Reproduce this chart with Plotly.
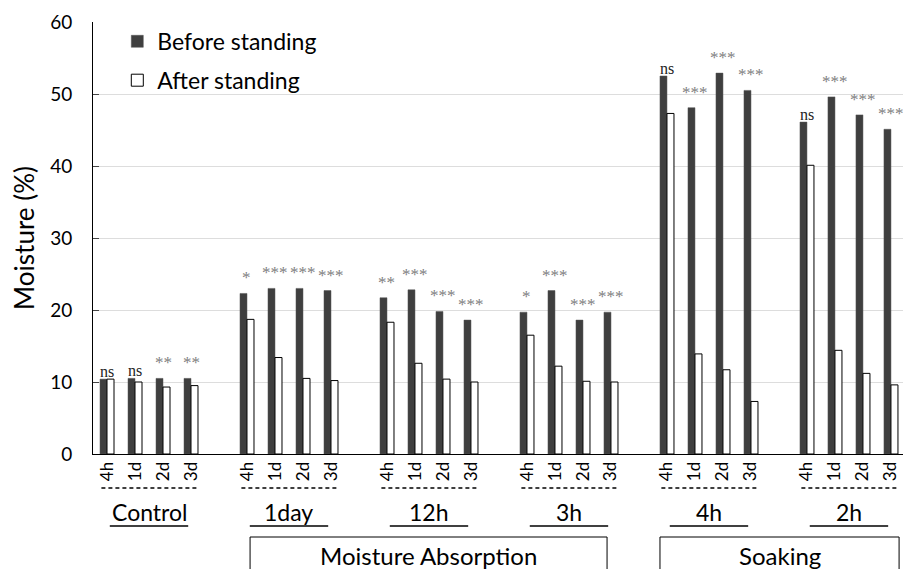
import plotly.graph_objects as go

groups = ["Control", "1day", "12h", "3h", "4h", "2h"]
times = ["4h", "1d", "2d", "3d"]
before = [10.4, 10.5, 10.5, 10.5,
          22.3, 23.0, 23.0, 22.7,
          21.7, 22.8, 19.8, 18.6,
          19.7, 22.7, 18.6, 19.7,
          52.5, 48.1, 52.9, 50.5,
          46.1, 49.6, 47.1, 45.1]
after = [10.4, 10.0, 9.3, 9.5,
         18.7, 13.4, 10.5, 10.2,
         18.3, 12.6, 10.4, 10.0,
         16.5, 12.2, 10.1, 10.0,
         47.3, 13.9, 11.7, 7.3,
         40.1, 14.4, 11.2, 9.6]
signif = ["ns", "ns", "**", "**",
          "*", "***", "***", "***",
          "**", "***", "***", "***",
          "*", "***", "***", "***",
          "ns", "***", "***", "***",
          "ns", "***", "***", "***"]
sections = [("Moisture Absorption", 1, 3), ("Soaking", 4, 5)]
yticks = [0, 10, 20, 30, 40, 50, 60]

# numeric positions: one empty slot between groups
xpos = [g * 5 + i for g in range(len(groups)) for i in range(len(times))]
ticktext = [t for g in groups for t in times]

FONT = "Lato"
W, H = 903, 569
ML, MT, MB = 93, 22, 115
PH = H - MT - MB  # plot height in px
AX_BOTTOM = MT + PH  # page y of the x axis

def ypap(p):
    return (AX_BOTTOM - p) / PH

fig = go.Figure()
fig.add_trace(go.Bar(x=xpos, y=before, name="Before standing",
                     marker=dict(color="#3f3f3f", line=dict(color="#555555", width=0.5)),
                     legendgroup="a"))
fig.add_trace(go.Bar(x=xpos, y=after, name="After standing",
                     marker=dict(color="white", line=dict(color="black", width=1)),
                     legendgroup="b"))

annotations = []
for x, y, s in zip(xpos, before, signif):
    if s == "ns":
        annotations.append(dict(x=x, y=y, text=s, showarrow=False, yanchor="bottom",
                                xanchor="center", yshift=-3,
                                font=dict(family="Liberation Serif", size=16, color="#222")))
    else:
        annotations.append(dict(x=x, y=y, text=s, showarrow=False, yanchor="bottom",
                                xanchor="center", yshift=4,
                                font=dict(family="Liberation Serif", size=17, color="#808080")))

shapes = []
for g, name in enumerate(groups):
    base = g * 5
    shapes.append(dict(type="line", xref="x", yref="paper", x0=base - 0.2, x1=base + 3.2,
                       y0=ypap(488), y1=ypap(488),
                       line=dict(color="black", width=1.5, dash="4px,3px")))
    shapes.append(dict(type="line", xref="x", yref="paper", x0=base + 0.1, x1=base + 2.9,
                       y0=ypap(526), y1=ypap(526), line=dict(color="black", width=1.5)))
    annotations.append(dict(x=base + 1.5, y=ypap(512), xref="x", yref="paper", text=name,
                            showarrow=False, xanchor="center", yanchor="middle",
                            font=dict(family=FONT, size=23, color="black")))

box_ext = {"Moisture Absorption": (0.11, -0.14), "Soaking": (-0.25, 0.29)}
for name, g0, g1 in sections:
    a, b = box_ext[name]
    x0 = g0 * 5 + a
    x1 = g1 * 5 + 3 + b
    shapes.append(dict(type="rect", xref="x", yref="paper", x0=x0, x1=x1,
                       y0=ypap(580), y1=ypap(537), line=dict(color="black", width=1)))
    annotations.append(dict(x=(x0 + x1) / 2, y=ypap(555), xref="x", yref="paper", text=name,
                            showarrow=False, xanchor="center", yanchor="middle",
                            font=dict(family=FONT, size=24, color="black")))

fig.update_layout(
    width=W, height=H,
    margin=dict(l=ML, r=0, t=MT, b=MB),
    plot_bgcolor="white", paper_bgcolor="white",
    barmode="group", bargap=0.5, bargroupgap=0,
    font=dict(family=FONT, size=18, color="black"),
    showlegend=True,
    legend=dict(x=0.03, y=1.005, xanchor="left", yanchor="top",
                font=dict(family=FONT, size=23), tracegroupgap=6,
                bgcolor="rgba(0,0,0,0)"),
    annotations=annotations,
    shapes=shapes,
    xaxis=dict(range=[-0.5, 28.43], tickmode="array", tickvals=xpos, ticktext=ticktext,
               tickangle=-90, tickfont=dict(family=FONT, size=17), showline=True,
               linecolor="black", linewidth=1, showgrid=False, zeroline=False, ticks=""),
    yaxis=dict(range=[0, 60], tickvals=yticks, showline=True, linecolor="black", linewidth=1,
               ticks="inside", ticklen=6, tickcolor="#444", showgrid=True,
               gridcolor="#dddddd", zeroline=False, ticklabelstandoff=16,
               tickfont=dict(family=FONT, size=19),
               title=dict(text="Moisture (%)", font=dict(family=FONT, size=26), standoff=8)),
)

fig.write_html("out.html", config={"displayModeBar": False},
               post_script="document.body.style.margin='0';document.body.style.overflow='hidden';")
